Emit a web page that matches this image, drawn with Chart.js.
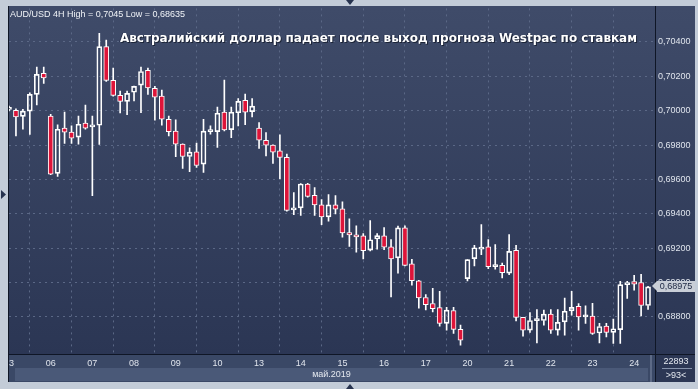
<!DOCTYPE html>
<html><head><meta charset="utf-8">
<script src="https://cdn.jsdelivr.net/npm/chart.js@4.4.0/dist/chart.umd.min.js"></script>
<style>
html,body{margin:0;padding:0;background:#c3ccd8;overflow:hidden}
#wrap{position:relative;width:698px;height:389px}
canvas{position:absolute;left:0;top:0}
.t{position:absolute;white-space:nowrap;font-family:"Liberation Sans",Arial,sans-serif;font-size:9px;line-height:9px;color:#e4e8ef}
#ttl{position:absolute;left:120px;top:31px;white-space:nowrap;font-family:"DejaVu Sans",sans-serif;font-weight:bold;font-size:12px;line-height:14px;color:#ffffff;text-shadow:1px 1px 0 #1c2436,-1px 0 0 #2a3350;transform-origin:0 0}
#px{position:absolute;left:657px;width:38px;height:11px;background:#c9ced7;color:#1b2540;font-family:"Liberation Sans",Arial,sans-serif;font-size:9px;line-height:11px;text-align:center}
#px:before{content:"";position:absolute;left:-5px;top:0;border-top:5.5px solid transparent;border-bottom:5.5px solid transparent;border-right:5px solid #c9ced7}
</style></head><body>
<div id="wrap">
<canvas id="c" width="698" height="389" style="width:698px;height:389px"></canvas>
<div class="t" id="hdr" style="left:10px;top:10px;color:#f0f3f7">AUD/USD 4H High = 0,7045 Low = 0,68635</div>
<div id="ttl">Австралийский доллар падает после выход прогноза Westpac по ставкам</div>
<div class="t" id="month" style="left:15px;width:633px;top:370px;text-align:center">май.2019</div>
<div class="t" id="vol" style="left:657px;width:38px;top:357px;text-align:center">22893</div>
<div class="t" id="cnt" style="left:657px;width:38px;top:371px;text-align:center">&gt;93&lt;</div>
<div id="px">0,68975</div>
</div>
<script>
const days = ['03','06','07','08','09','10','13','14','15','16','17','20','21','22','23','24'];
const hours = ['00','04','08','12','16','20'];
const categories = days.flatMap(d => hours.map(h => d + ' ' + h + ':00')).slice(0, 93);
const openP = [0.70007,0.70002,0.69967,0.69997,0.70095,0.70217,0.69969,0.69635,0.69898,0.69875,0.69846,0.69927,0.69906,0.69915,0.70373,0.70176,0.70089,0.70054,0.70107,0.70149,0.70234,0.70130,0.70085,0.69950,0.69881,0.69805,0.69733,0.69761,0.69689,0.69878,0.69878,0.69991,0.69890,0.69988,0.70060,0.69994,0.69898,0.69828,0.69799,0.69766,0.69728,0.69423,0.69434,0.69573,0.69507,0.69452,0.69382,0.69452,0.69428,0.69290,0.69278,0.69272,0.69188,0.69253,0.69272,0.69207,0.69143,0.69318,0.69109,0.69010,0.68913,0.68878,0.68854,0.68762,0.68837,0.68727,0.69023,0.69139,0.69194,0.69208,0.69092,0.69100,0.69055,0.69187,0.68797,0.68723,0.68778,0.68779,0.68816,0.68723,0.68771,0.68835,0.68862,0.68800,0.68804,0.68706,0.68746,0.68710,0.68726,0.68988,0.69006,0.69000,0.68866];
const highP = [0.70027,0.70011,0.70008,0.70104,0.70253,0.70253,0.69979,0.69917,0.69991,0.69911,0.69969,0.70033,0.69969,0.70450,0.70410,0.70248,0.70114,0.70114,0.70143,0.70253,0.70248,0.70141,0.70120,0.69969,0.69946,0.69807,0.69784,0.69811,0.69950,0.69911,0.70021,0.70178,0.70021,0.70070,0.70097,0.70070,0.69931,0.69872,0.69801,0.69859,0.69747,0.69523,0.69576,0.69577,0.69552,0.69482,0.69511,0.69506,0.69469,0.69370,0.69330,0.69285,0.69361,0.69285,0.69320,0.69250,0.69328,0.69330,0.69135,0.69012,0.68930,0.68966,0.68949,0.68856,0.68856,0.68752,0.69133,0.69216,0.69337,0.69250,0.69220,0.69113,0.69279,0.69216,0.68797,0.68825,0.68843,0.68839,0.68843,0.68843,0.68910,0.68949,0.68878,0.68864,0.68879,0.68762,0.68762,0.68787,0.69007,0.69007,0.69042,0.69048,0.68978];
const lowP = [0.69998,0.69853,0.69892,0.69861,0.70033,0.70159,0.69627,0.69617,0.69809,0.69809,0.69805,0.69892,0.69506,0.69803,0.70170,0.70085,0.69987,0.69977,0.70056,0.69988,0.70095,0.69944,0.69915,0.69853,0.69732,0.69664,0.69645,0.69670,0.69641,0.69863,0.69786,0.69882,0.69843,0.69911,0.69919,0.69963,0.69780,0.69737,0.69693,0.69604,0.69415,0.69395,0.69390,0.69496,0.69391,0.69337,0.69357,0.69399,0.69264,0.69210,0.69177,0.69137,0.69184,0.69194,0.69191,0.68916,0.69055,0.69097,0.68985,0.68850,0.68841,0.68829,0.68746,0.68723,0.68704,0.68635,0.69009,0.69096,0.69162,0.69080,0.69077,0.69026,0.69046,0.68777,0.68688,0.68710,0.68649,0.68752,0.68704,0.68694,0.68694,0.68810,0.68723,0.68762,0.68698,0.68649,0.68684,0.68645,0.68646,0.68907,0.68955,0.68806,0.68843];
const closeP = [0.70019,0.69963,0.69997,0.70095,0.70211,0.70191,0.69631,0.69892,0.69875,0.69840,0.69921,0.69898,0.69917,0.70373,0.70176,0.70089,0.70054,0.70101,0.70141,0.70228,0.70132,0.70078,0.69950,0.69878,0.69805,0.69733,0.69759,0.69681,0.69881,0.69886,0.69985,0.69888,0.69991,0.70054,0.69991,0.70026,0.69828,0.69799,0.69759,0.69728,0.69420,0.69434,0.69573,0.69501,0.69452,0.69382,0.69452,0.69427,0.69288,0.69277,0.69265,0.69185,0.69249,0.69273,0.69206,0.69137,0.69318,0.69100,0.69010,0.68911,0.68871,0.68848,0.68762,0.68839,0.68727,0.68665,0.69133,0.69202,0.69204,0.69092,0.69100,0.69057,0.69181,0.68797,0.68723,0.68779,0.68785,0.68816,0.68723,0.68768,0.68833,0.68855,0.68800,0.68806,0.68704,0.68744,0.68710,0.68731,0.68988,0.69000,0.68991,0.68866,0.68975];
const yTicks = [0.688,0.690,0.692,0.694,0.696,0.698,0.700,0.702,0.704];

const labels = categories.concat(['']);
const upperWick = openP.map((o,i) => [Math.max(o, closeP[i]), highP[i]]);
const lowerWick = openP.map((o,i) => [lowP[i], Math.min(o, closeP[i])]);
const bodies = openP.map((o,i) => [o, closeP[i]]);
const bodyColors = openP.map((o,i) => closeP[i] < o ? '#de1439' : 'rgba(0,0,0,0)');

const FRAME = '#c3ccd8';
const deco = {
  id: 'deco',
  beforeDraw(chart) {
    const ctx = chart.ctx, a = chart.chartArea;
    ctx.save();
    ctx.fillStyle = FRAME; ctx.fillRect(0, 0, 698, 389);
    const g = ctx.createLinearGradient(0, a.top, 0, a.bottom);
    g.addColorStop(0, '#3f4b69'); g.addColorStop(1, '#2b3654');
    ctx.fillStyle = g; ctx.fillRect(8, 6, 687, a.bottom - 6);
    ctx.fillStyle = '#3a4866'; ctx.fillRect(8, a.bottom, a.right - 8, 28);
    ctx.fillStyle = '#4a5978'; ctx.fillRect(15, a.bottom + 14, a.right - 22, 13);
    ctx.fillStyle = '#2c3754'; ctx.fillRect(a.right, a.bottom, 40, 28);
    ctx.restore();
  },
  afterDraw(chart) {
    const ctx = chart.ctx, a = chart.chartArea;
    ctx.save();
    ctx.fillStyle = FRAME;
    ctx.fillRect(0, 0, 8, 389); ctx.fillRect(0, 0, 698, 6);
    ctx.fillRect(0, 382, 698, 7); ctx.fillRect(695, 0, 3, 389);
    ctx.fillStyle = '#0f1626';
    ctx.fillRect(a.right, 6, 1, 376);
    ctx.fillRect(8, a.bottom, 687, 1);
    ctx.fillRect(8, 6, 1, 376);
    ctx.fillStyle = '#5d6a86';
    ctx.fillRect(650, a.bottom + 1, 2, 27);
    ctx.fillStyle = '#8592ab';
    ctx.fillRect(662, 368, 30, 1);
    ctx.fillStyle = '#26324e';
    ctx.beginPath(); ctx.moveTo(346, 0); ctx.lineTo(354, 0); ctx.lineTo(350, 5); ctx.fill();
    ctx.beginPath(); ctx.moveTo(346, 389); ctx.lineTo(354, 389); ctx.lineTo(350, 384); ctx.fill();
    ctx.beginPath(); ctx.moveTo(1, 190); ctx.lineTo(1, 199); ctx.lineTo(6, 194.5); ctx.fill();
    ctx.restore();
  }
};

const gridCommon = { color: '#5b6886', lineWidth: 1, drawTicks: false };
const chart = new Chart(document.getElementById('c'), {
  type: 'bar',
  data: {
    labels: labels,
    datasets: [
      { data: upperWick, backgroundColor: '#ffffff', barThickness: 1, grouped: false, order: 2 },
      { data: lowerWick, backgroundColor: '#ffffff', barThickness: 1, grouped: false, order: 2 },
      { data: bodies, backgroundColor: bodyColors, borderColor: '#ffffff', borderWidth: 1, borderSkipped: false,
        barThickness: 5, minBarLength: 2, grouped: false, order: 1 }
    ]
  },
  options: {
    responsive: false, animation: false, devicePixelRatio: 1,
    layout: { padding: { left: 9, top: 7, right: 0, bottom: 0 } },
    plugins: { legend: { display: false }, tooltip: { enabled: false }, title: { display: false } },
    scales: {
      x: {
        type: 'category', offset: false,
        grid: gridCommon,
        border: { display: true, color: '#0f1626', dash: [2, 4] },
        afterBuildTicks: s => { s.ticks = s.ticks.filter(t => labels[t.value] && labels[t.value].endsWith('00:00')); },
        afterFit: s => { s.height = 35; },
        ticks: { autoSkip: false, maxRotation: 0, minRotation: 0, padding: 4, color: '#dfe4ec',
          font: { family: 'Liberation Sans', size: 9 },
          callback: v => labels[v] ? labels[v].slice(0, 2) : '' }
      },
      y: {
        position: 'right', min: 0.68584, max: 0.70595,
        grid: gridCommon,
        border: { display: true, color: '#0f1626', dash: [2, 4] },
        afterBuildTicks: s => { s.ticks = yTicks.map(v => ({ value: v })); },
        afterFit: s => { s.width = 43; },
        ticks: { padding: 3, color: '#dfe4ec', font: { family: 'Liberation Sans', size: 9 },
          callback: v => Number(v).toFixed(5).replace('.', ',') }
      }
    }
  },
  plugins: [deco]
});

const yPix = chart.scales.y.getPixelForValue(closeP[closeP.length - 1]);
document.getElementById('px').style.top = (yPix - 5.5) + 'px';
const ttl = document.getElementById('ttl');
const w = ttl.getBoundingClientRect().width;
ttl.style.transform = 'scaleX(' + (517 / w) + ')';
</script>
</body></html>
